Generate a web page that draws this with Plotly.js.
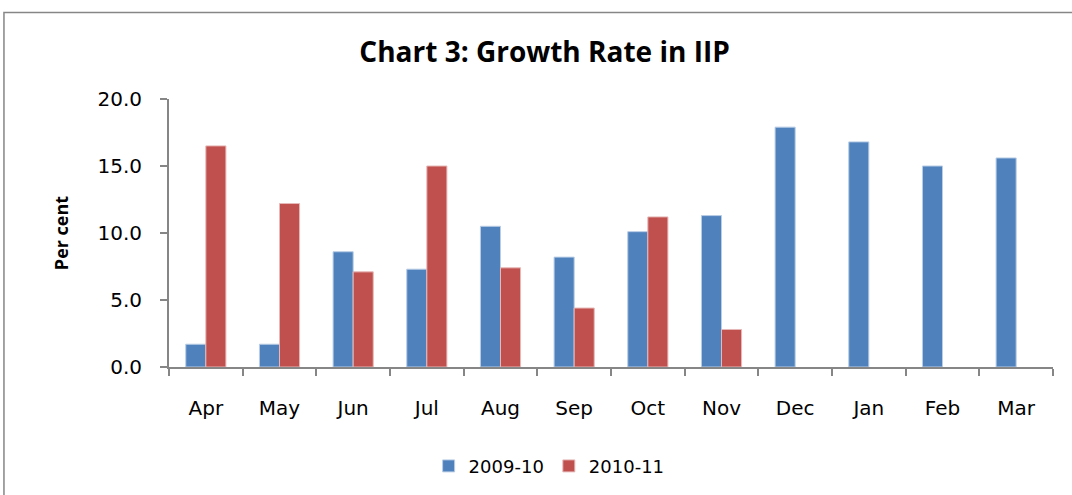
<!DOCTYPE html>
<html>
<head>
<meta charset="utf-8">
<script src="https://cdn.plot.ly/plotly-3.0.1.min.js"></script>
<style>html,body{margin:0;padding:0;background:#fff;}#chart{width:1072px;height:495px;}</style>
</head>
<body>
<div id="chart"></div>
<script>
const months = ["Apr","May","Jun","Jul","Aug","Sep","Oct","Nov","Dec","Jan","Feb","Mar"];
const series2009 = [1.7, 1.7, 8.6, 7.3, 10.5, 8.2, 10.1, 11.3, 17.9, 16.8, 15.0, 15.6];
const series2010 = [16.5, 12.2, 7.1, 15.0, 7.4, 4.4, 11.2, 2.8, null, null, null, null];
const seriesNames = ["2009-10", "2010-11"];

const traces = [
  {type:"bar", x:months, y:series2009, name:seriesNames[0],
   marker:{color:"#4F81BD", line:{color:"#B9CDE5", width:1}}},
  {type:"bar", x:months, y:series2010, name:seriesNames[1],
   marker:{color:"#C0504D", line:{color:"#E6B9B8", width:1}}}
];

const layout = {
  width:1072, height:495,
  margin:{l:169, r:19, t:99, b:127},
  paper_bgcolor:"#fff", plot_bgcolor:"#fff",
  barmode:"group", bargap:0.455, bargroupgap:0,
  showlegend:true,
  title:{text:"<b>Chart 3: Growth Rate in IIP</b>", x:0.508, xanchor:"center", y:0.895, yanchor:"middle",
         font:{family:"Open Sans, sans-serif", size:28, color:"#000"}},
  xaxis:{type:"category", showline:true, linecolor:"#868686", linewidth:2,
         ticks:"outside", tickson:"boundaries", ticklen:7, tickcolor:"#868686", tickwidth:2,
         ticklabelstandoff:22,
         tickfont:{family:"DejaVu Sans, sans-serif", size:20, color:"#000"}, showgrid:false, zeroline:false},
  yaxis:{range:[0,20], dtick:5, tickformat:".1f", showline:true, linecolor:"#868686", linewidth:2,
         ticks:"outside", ticklen:7, tickcolor:"#868686", tickwidth:2, showgrid:false, zeroline:false,
         ticklabelstandoff:14,
         tickfont:{family:"DejaVu Sans, sans-serif", size:20, color:"#000"},
         title:{text:"<b>Per cent</b>", standoff:24, font:{family:"Open Sans, sans-serif", size:18, color:"#000"}}},
  legend:{orientation:"h", x:0.43, xanchor:"center", y:-0.365, yanchor:"middle",
          font:{family:"DejaVu Sans, sans-serif", size:18, color:"#000"}, itemwidth:30},
  shapes:[{type:"rect", xref:"paper", yref:"paper", x0:-0.1867, x1:1.2, y0:-0.7, y1:1.323,
           line:{color:"#868686", width:1.5}, fillcolor:"rgba(0,0,0,0)", layer:"below"}]
};

Plotly.newPlot("chart", traces, layout, {displayModeBar:false, staticPlot:true});
</script>
</body>
</html>
